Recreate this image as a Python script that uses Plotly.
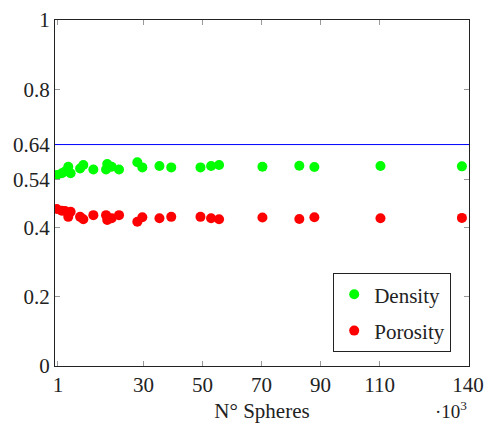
import plotly.graph_objects as go

# Number of spheres (x10^3)
spheres = [0.6, 2.3, 3.4, 4.5, 5.3, 8.5, 9.6, 13.0, 17.3, 17.7, 19.2, 21.7,
           27.9, 29.6, 35.4, 39.4, 49.3, 52.9, 55.6, 70.3, 82.8, 87.9, 110.3, 137.9]
density = [0.552, 0.557, 0.562, 0.576, 0.557, 0.571, 0.581, 0.568, 0.568, 0.584, 0.576, 0.568,
           0.589, 0.574, 0.578, 0.574, 0.574, 0.578, 0.581, 0.576, 0.579, 0.575, 0.578, 0.577]
porosity = [0.454, 0.449, 0.448, 0.431, 0.446, 0.431, 0.424, 0.436, 0.436, 0.422, 0.427, 0.436,
            0.417, 0.430, 0.427, 0.431, 0.431, 0.427, 0.424, 0.429, 0.425, 0.430, 0.427, 0.428]
reference_line = 0.64

x_ticks = [1, 30, 50, 70, 90, 110, 140]
y_ticks = [0, 0.2, 0.4, 0.54, 0.64, 0.8, 1]
y_tick_labels = ["0", "0.2", "0.4", "0.54", "0.64", "0.8", "1"]

FONT = "Liberation Serif, DejaVu Serif, serif"
FS = 21

fig = go.Figure()
fig.add_trace(go.Scatter(x=spheres, y=density, mode="markers", name="Density", legendgroup="d",
                         marker=dict(color="#00ff00", size=10)))
fig.add_trace(go.Scatter(x=spheres, y=porosity, mode="markers", name="Porosity", legendgroup="p",
                         marker=dict(color="#ff0000", size=10)))
fig.add_shape(type="line", xref="paper", x0=0, x1=1, yref="y", y0=reference_line, y1=reference_line,
              line=dict(color="#0000ff", width=1))

axis_common = dict(showgrid=False, zeroline=False, showline=True, linecolor="#222222", linewidth=1.2,
                   mirror="allticks", ticks="inside", ticklen=5, tickcolor="#999999",
                   automargin=False,
                   tickfont=dict(family=FONT, size=FS, color="#222222"))

fig.update_xaxes(range=[0, 140.3], tickmode="array", tickvals=x_ticks,
                 ticktext=[str(v) for v in x_ticks],
                 title=dict(text="N° Spheres", font=dict(family=FONT, size=FS, color="#222222"), standoff=10),
                 **axis_common)
fig.update_yaxes(range=[0, 1], tickmode="array", tickvals=y_ticks, ticktext=y_tick_labels,
                 **axis_common)

fig.add_annotation(text="·10<sup>3</sup>", xref="paper", yref="paper", x=1.0, y=-0.128,
                   xanchor="right", yanchor="middle", showarrow=False,
                   font=dict(family=FONT, size=19, color="#222222"))

fig.update_layout(width=485, height=423, margin=dict(l=55, r=16, t=20, b=57),
                  plot_bgcolor="white", paper_bgcolor="white",
                  legend=dict(x=0.957, y=0.04, xanchor="right", yanchor="bottom",
                              bordercolor="#222222", borderwidth=1, bgcolor="white",
                              font=dict(family=FONT, size=FS, color="#222222"),
                              itemwidth=30, tracegroupgap=6),
                  showlegend=True)

fig.write_html("out.html", config={"displayModeBar": False})

# remove the default page margin so the figure sits at the window's top-left corner
with open("out.html", encoding="utf-8") as f:
    html = f.read()
html = html.replace("<body>", '<body style="margin:0;overflow:hidden">', 1)
with open("out.html", "w", encoding="utf-8") as f:
    f.write(html)
